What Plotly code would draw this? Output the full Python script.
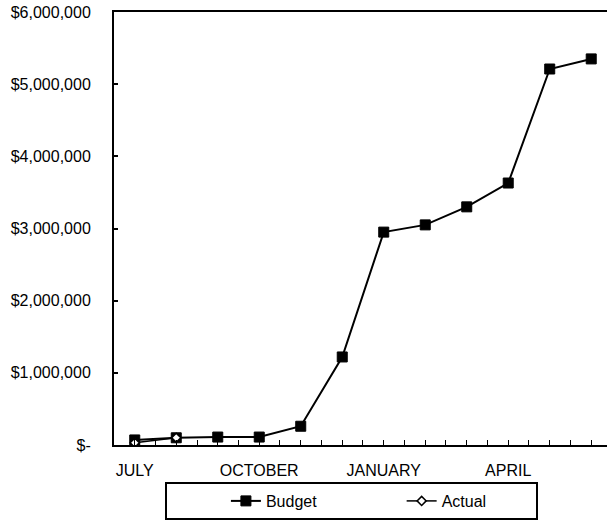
import plotly.graph_objects as go

months = ["JULY", "AUGUST", "SEPTEMBER", "OCTOBER", "NOVEMBER", "DECEMBER",
          "JANUARY", "FEBRUARY", "MARCH", "APRIL", "MAY", "JUNE"]
budget = [70000, 100000, 110000, 110000, 260000, 1220000,
          2950000, 3050000, 3300000, 3630000, 5210000, 5350000]
actual = [30000, 100000]

x_label_idx = [0, 3, 6, 9]
y_ticks = [0, 1000000, 2000000, 3000000, 4000000, 5000000, 6000000]
y_tick_text = ["$-", "$1,000,000", "$2,000,000", "$3,000,000",
               "$4,000,000", "$5,000,000", "$6,000,000"]

FONT = "Liberation Sans, Arial, sans-serif"
NB = "\u00a0"
xs = list(range(len(months)))

# tick marks every half category, labels only on selected months
x_tickvals = [i * 0.5 for i in range(0, 2 * len(months))]
x_ticktext = [months[int(v)] if (v == int(v) and int(v) in x_label_idx) else ""
              for v in x_tickvals]

fig = go.Figure()
fig.add_trace(go.Scatter(
    x=xs, y=budget, name="Budget" + NB * 18, mode="lines+markers",
    line=dict(color="black", width=2),
    marker=dict(symbol="square", size=10, color="black",
                line=dict(color="black", width=1)),
))
fig.add_trace(go.Scatter(
    x=xs[:len(actual)], y=actual, name="Actual" + NB * 10, mode="lines+markers",
    line=dict(color="black", width=1.5),
    marker=dict(symbol="diamond", size=7, color="white",
                line=dict(color="black", width=1.5)),
))

fig.update_layout(
    width=607, height=522,
    margin=dict(l=114, r=0, t=12, b=77, autoexpand=False),
    paper_bgcolor="white", plot_bgcolor="white",
    font=dict(family=FONT, size=16, color="black"),
    showlegend=True,
    legend=dict(
        orientation="h",
        xref="container", yref="container",
        x=165 / 607, xanchor="left",
        y=1 - 482 / 522, yanchor="top",
        bordercolor="black", borderwidth=2,
        bgcolor="white",
        title=dict(text=NB * 11, font=dict(family=FONT, size=16)),
        font=dict(family=FONT, size=16, color="black"),
        itemsizing="trace",
    ),
)

fig.update_xaxes(
    range=[-0.5, 11.38],
    tickmode="array",
    tickvals=x_tickvals,
    ticktext=x_ticktext,
    ticks="inside", ticklen=5, tickcolor="black", tickwidth=1,
    showgrid=False, zeroline=False,
    showline=True, linecolor="black", linewidth=2, mirror=True,
    ticklabelstandoff=10,
    tickfont=dict(family=FONT, size=16, color="black"),
)
fig.update_yaxes(
    range=[0, 6000000],
    tickmode="array",
    tickvals=y_ticks, ticktext=y_tick_text,
    ticks="inside", ticklen=4, tickcolor="black", tickwidth=2,
    showgrid=False, zeroline=False,
    showline=True, linecolor="black", linewidth=2, mirror=False,
    ticklabelstandoff=18,
    tickfont=dict(family=FONT, size=16, color="black"),
)

fig.write_html(
    "out.html",
    config={"displayModeBar": False},
    post_script="document.body.style.margin='0';document.body.style.overflow='hidden';",
)
